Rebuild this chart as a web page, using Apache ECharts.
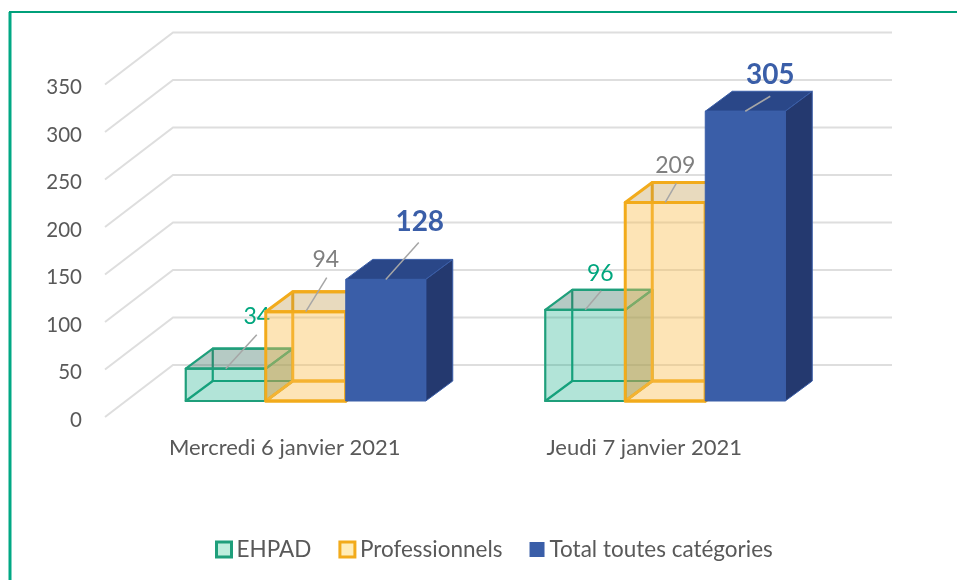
<!DOCTYPE html>
<html>
<head>
<meta charset="utf-8">
<style>
  html, body { margin: 0; padding: 0; background: #fff; }
  #chart { width: 957px; height: 580px; }
</style>
<script src="https://cdn.jsdelivr.net/npm/echarts@6/dist/echarts.min.js"></script>
</head>
<body>
<div id="chart"></div>
<script>
  var categories = ['Mercredi 6 janvier 2021', 'Jeudi 7 janvier 2021']
  var ehpad = [34, 96]
  var professionnels = [94, 209]
  var total = [128, 305]
  var yTicks = [0, 50, 100, 150, 200, 250, 300, 350]

  var FONT = 'Lato'
  // decalage du mur du fond par rapport au plan de l'axe
  var WALL_DX = 68, WALL_DY = -52
  // face avant des barres, et profondeur des barres
  var FRONT_DX = 21, FRONT_DY = -16
  var DEPTH_DX = 27, DEPTH_DY = -20
  var BAR_W = 80

  var styles = [
    {
      slot: -1, line: '#1f9f7b', lineWidth: 2.2, hollow: true,
      front: 'rgba(0,165,125,0.30)', top: 'rgba(60,115,100,0.38)', side: 'rgba(40,110,85,0.42)',
      labelColor: '#00a67e', labelSize: 23, labelWeight: 'normal',
      leader: [[31, -34], [31, -52]]
    },
    {
      slot: 0, line: '#f2ab1b', lineWidth: 3, hollow: true,
      front: 'rgba(250,190,80,0.42)', top: 'rgba(190,150,70,0.35)', side: 'rgba(200,160,70,0.25)',
      labelColor: '#7f7f7f', labelSize: 23, labelWeight: 'normal',
      leader: [[21, -34], [20, -52]]
    },
    {
      slot: 1, line: '#3a5ea8', lineWidth: 1, hollow: false,
      front: '#3a5ea8', top: '#2a4788', side: '#24396f',
      labelColor: '#3a5ea8', labelSize: 28, labelWeight: 'bold',
      leader: [[33, -37], [34, -57]]
    }
  ]
  // le second groupe a des traits plus courts
  var leadersSecond = [
    [[16, -19], [15, -36]],
    [[11, -19], [10, -37]],
    [[25, -15], [25, -36]]
  ]

  function poly(points, fill, stroke, lineWidth) {
    return {
      type: 'polygon',
      shape: { points: points },
      style: { fill: fill || 'transparent', stroke: stroke || 'transparent', lineWidth: lineWidth || 0, lineJoin: 'round' }
    }
  }

  function renderBox(params, api) {
    var st = styles[params.seriesIndex - 1]
    var cat = api.value(0)
    var value = api.value(1)
    var top = api.coord([cat, value])
    var base = api.coord([cat, 0])
    var cx = top[0] + FRONT_DX + st.slot * BAR_W
    var x0 = cx - BAR_W / 2, x1 = cx + BAR_W / 2
    var y0 = base[1] + FRONT_DY, y1 = top[1] + FRONT_DY
    var dx = DEPTH_DX, dy = DEPTH_DY
    var s = st.line, w = st.lineWidth

    var children = []
    if (st.hollow) {
      // aretes cachees, visibles par transparence
      children.push(poly([[x0 + dx, y0 + dy], [x1 + dx, y0 + dy], [x1 + dx, y1 + dy], [x0 + dx, y1 + dy]], null, s, w))
      children.push(poly([[x0, y0], [x1, y0], [x1 + dx, y0 + dy], [x0 + dx, y0 + dy]], null, s, w))
    }
    children.push(poly([[x0, y1], [x1, y1], [x1 + dx, y1 + dy], [x0 + dx, y1 + dy]], st.top, s, w))
    children.push(poly([[x1, y0], [x1 + dx, y0 + dy], [x1 + dx, y1 + dy], [x1, y1]], st.side, s, w))
    children.push(poly([[x0, y0], [x1, y0], [x1, y1], [x0, y1]], st.front, s, w))

    // trait de rappel et etiquette
    var lead = cat === 0 ? st.leader : leadersSecond[params.seriesIndex - 1]
    children.push({
      type: 'line',
      shape: { x1: cx, y1: y1, x2: cx + lead[0][0], y2: y1 + lead[0][1] },
      style: { stroke: '#a6a6a6', lineWidth: 1.5 }
    })
    children.push({
      type: 'text',
      x: cx + lead[1][0],
      y: y1 + lead[1][1],
      style: {
        text: String(value),
        fill: st.labelColor,
        font: st.labelWeight + ' ' + st.labelSize + 'px ' + FONT,
        align: 'center',
        verticalAlign: 'middle'
      }
    })
    return { type: 'group', children: children }
  }

  function renderWall(params, api) {
    var value = api.value(0)
    var p = api.coord([0, value])
    var x0 = params.coordSys.x
    var x1 = x0 + params.coordSys.width
    return {
      type: 'polyline',
      shape: { points: [[x0, p[1]], [x0 + WALL_DX, p[1] + WALL_DY], [x1 + WALL_DX, p[1] + WALL_DY]] },
      style: { fill: 'none', stroke: '#dedede', lineWidth: 2 }
    }
  }

  function boxData(values) {
    return values.map(function (v, i) { return [i, v] })
  }

  var chart = echarts.init(document.getElementById('chart'))

  chart.setOption({
    animation: false,
    backgroundColor: '#fff',
    textStyle: { fontFamily: FONT },
    grid: { left: 105, right: 133, top: 84.5, bottom: 163 },
    legend: {
      left: 210,
      top: 533,
      itemWidth: 15,
      itemHeight: 15,
      itemGap: 27,
      selectedMode: false,
      textStyle: { color: '#595959', fontSize: 22.5, fontFamily: FONT },
      data: [
        { name: 'EHPAD', icon: 'rect', itemStyle: { color: '#bfeedd', borderColor: '#1f9f7b', borderWidth: 3 } },
        { name: 'Professionnels', icon: 'rect', itemStyle: { color: '#ffedb8', borderColor: '#f2ab1b', borderWidth: 3 } },
        { name: 'Total toutes catégories', icon: 'rect', itemStyle: { color: '#3a5ea8', borderWidth: 0 } }
      ]
    },
    xAxis: {
      type: 'category',
      data: categories,
      axisLine: { show: false },
      axisTick: { show: false },
      splitLine: { show: false },
      axisLabel: { color: '#595959', fontSize: 22, margin: 20, fontFamily: FONT }
    },
    yAxis: {
      type: 'value',
      min: 0,
      max: 350,
      interval: 50,
      axisLine: { show: false },
      axisTick: { show: false },
      splitLine: { show: false },
      axisLabel: {
        color: '#595959',
        fontSize: 20.5,
        margin: 23,
        fontFamily: FONT,
        formatter: '{v|{value}}',
        rich: { v: { color: '#595959', fontSize: 20.5, fontFamily: FONT, padding: [6, 0, 0, 0] } }
      }
    },
    graphic: [
      {
        type: 'line',
        shape: { x1: 10, y1: 12, x2: 10, y2: 580 },
        style: { stroke: '#00a884', lineWidth: 3 }
      },
      {
        type: 'line',
        shape: { x1: 9, y1: 12, x2: 957, y2: 12 },
        style: { stroke: '#00a07a', lineWidth: 2 }
      }
    ],
    series: [
      { name: 'murs', type: 'custom', renderItem: renderWall, data: yTicks, encode: { y: 0 }, silent: true },
      { name: 'EHPAD', type: 'custom', renderItem: renderBox, data: boxData(ehpad), encode: { x: 0, y: 1 } },
      { name: 'Professionnels', type: 'custom', renderItem: renderBox, data: boxData(professionnels), encode: { x: 0, y: 1 } },
      { name: 'Total toutes catégories', type: 'custom', renderItem: renderBox, data: boxData(total), encode: { x: 0, y: 1 } }
    ]
  })
</script>
</body>
</html>
